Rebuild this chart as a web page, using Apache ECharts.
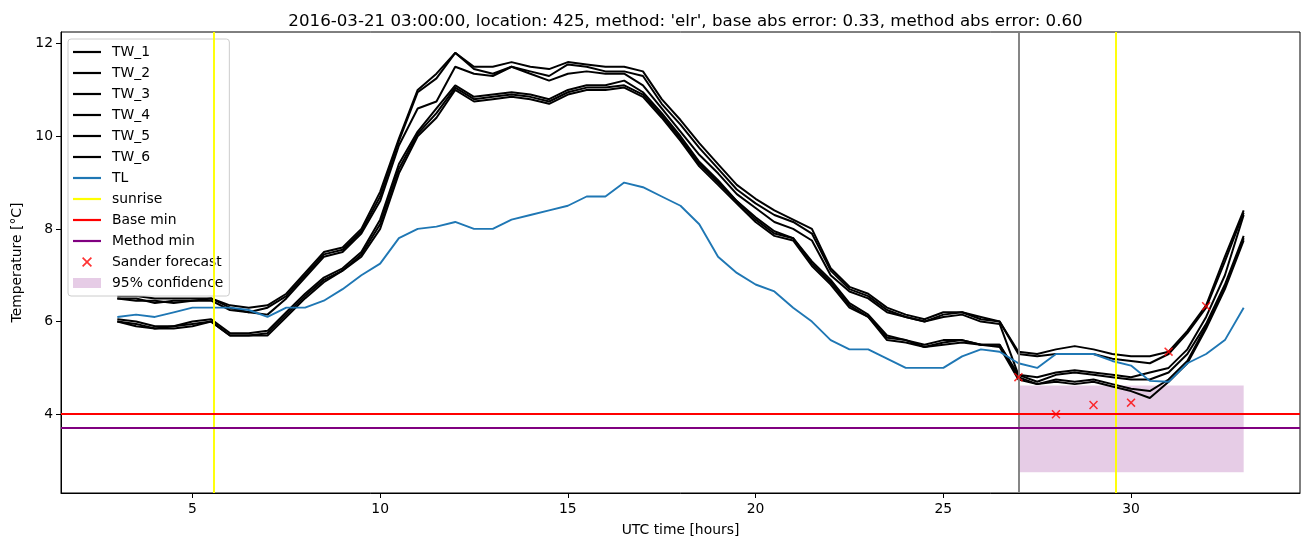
<!DOCTYPE html>
<html><head><meta charset="utf-8">
<script src="https://cdn.jsdelivr.net/npm/echarts@6.0.0/dist/echarts.min.js"></script>
<style>html,body{margin:0;padding:0;background:#fff}#c{width:1310px;height:547px}</style>
</head><body><div id="c"></div>
<script>
// ---- data ----
const hours = [3,3.5,4,4.5,5,5.5,6,6.5,7,7.5,8,8.5,9,9.5,10,10.5,11,11.5,12,12.5,13,13.5,14,14.5,15,15.5,16,16.5,17,17.5,18,18.5,19,19.5,20,20.5,21,21.5,22,22.5,23,23.5,24,24.5,25,25.5,26,26.5,27,27.5,28,28.5,29,29.5,30,30.5,31,31.5,32,32.5,33];
const TW_1 = [6.55,6.55,6.5,6.5,6.5,6.5,6.35,6.3,6.35, 6.6,7.05,7.5,7.6,8.0,8.8,9.95,11.0,11.35,11.8, 11.5,11.5,11.6,11.5,11.45,11.6,11.55,11.5,11.5,11.4, 10.8,10.35,9.85,9.4,8.95,8.65,8.4,8.2,8.0,7.15, 6.75,6.6,6.3,6.15,6.05,6.2,6.2,6.1,6.0,5.35, 5.3,5.4,5.47,5.4,5.3,5.25,5.25,5.35,5.8,6.35,7.4,8.4];
const TW_2 = [6.5,6.5,6.4,6.45,6.45,6.5,6.3,6.2,6.3, 6.55,7.0,7.45,7.55,7.95,8.7,9.9,10.95,11.25,11.8, 11.45,11.35,11.5,11.4,11.3,11.55,11.5,11.4,11.4,11.3, 10.7,10.25,9.75,9.3,8.85,8.55,8.3,8.15,7.9,7.1, 6.7,6.55,6.25,6.1,6.0,6.15,6.2,6.05,6.0,5.3, 5.25,5.3,5.3,5.3,5.2,5.15,5.1,5.3,5.75,6.3,7.3,8.35];
const TW_3 = [6.5,6.45,6.45,6.4,6.45,6.45,6.25,6.2,6.15, 6.5,6.95,7.4,7.5,7.9,8.6,9.8,10.6,10.75,11.5, 11.35,11.3,11.5,11.35,11.2,11.35,11.4,11.35,11.35,11.1, 10.6,10.1,9.6,9.2,8.75,8.45,8.15,8.0,7.75,7.0, 6.65,6.5,6.2,6.1,6.0,6.1,6.15,6.0,5.95,4.85, 4.8,4.9,4.95,4.9,4.85,4.8,4.9,5.0,5.4,6.1,7.0,8.3];
const TW_4 = [6.05,6.0,5.9,5.9,6.0,6.05,5.75,5.75,5.8, 6.2,6.6,6.95,7.15,7.5,8.2,9.4,10.1,10.6,11.1, 10.85,10.9,10.95,10.9,10.8,11.0,11.1,11.1,11.2,10.95, 10.5,10.0,9.45,9.05,8.6,8.25,7.95,7.8,7.3,6.9, 6.4,6.15,5.7,5.6,5.5,5.6,5.6,5.5,5.5,4.85, 4.7,4.85,4.9,4.85,4.8,4.75,4.75,4.9,5.3,5.95,6.8,7.85];
const TW_5 = [6.0,5.95,5.85,5.9,5.95,6.0,5.7,5.7,5.75, 6.15,6.55,6.9,7.1,7.45,8.1,9.3,10.05,10.5,11.05, 10.8,10.85,10.9,10.85,10.75,10.95,11.05,11.05,11.1,10.9, 10.45,9.95,9.4,9.0,8.6,8.2,7.9,7.8,7.25,6.85, 6.35,6.1,5.65,5.6,5.45,5.55,5.6,5.5,5.5,4.8, 4.65,4.75,4.7,4.75,4.65,4.55,4.5,4.75,5.15,5.9,6.75,7.8];
const TW_6 = [6.0,5.9,5.85,5.85,5.9,6.0,5.7,5.7,5.7, 6.1,6.5,6.85,7.1,7.4,8.0,9.2,10.0,10.4,11.0, 10.75,10.8,10.85,10.8,10.7,10.9,11.0,11.0,11.05,10.85, 10.4,9.9,9.35,8.95,8.55,8.15,7.85,7.75,7.2,6.8, 6.3,6.1,5.6,5.55,5.45,5.5,5.55,5.5,5.45,4.75, 4.65,4.7,4.65,4.7,4.6,4.5,4.35,4.7,5.1,5.85,6.7,7.75];
const TL = [6.1,6.15,6.1,6.2,6.3,6.3,6.3,6.25,6.1, 6.3,6.3,6.45,6.7,7.0,7.25,7.8,8.0,8.05,8.15, 8.0,8.0,8.2,8.3,8.4,8.5,8.7,8.7,9.0,8.9, 8.7,8.5,8.1,7.4,7.05,6.8,6.65,6.3,6.0,5.6, 5.4,5.4,5.2,5.0,5.0,5.0,5.25,5.4,5.35,5.1, 5.0,5.3,5.3,5.3,5.15,5.05,4.72,4.7,5.1,5.3,5.6,6.3];
const forecastHours = [27,28,29,30,31,32];
const forecastValues = [4.8,4.0,4.2,4.25,5.35,6.33];
const sunriseHours = [5.585, 29.585];
const forecastStart = 27;
const baseMin = 4.0;
const methodMin = 3.7;
const confHours = [27, 33];
const confRange = [2.75, 4.62];
const xTicks = [5,10,15,20,25,30];
const yTicks = [4,6,8,10,12];
const twNames = ['TW_1','TW_2','TW_3','TW_4','TW_5','TW_6'];
const twData = [TW_1,TW_2,TW_3,TW_4,TW_5,TW_6];
const titleText = "2016-03-21 03:00:00, location: 425, method: 'elr', base abs error: 0.33, method abs error: 0.60";

// ---- chart ----
const FONT = 'DejaVu Sans';
const pair = (xs, ys) => xs.map((x, i) => [x, ys[i]]);
const xPath = 'path://M0,1.2L1.2,0L5,3.8L8.8,0L10,1.2L6.2,5L10,8.8L8.8,10L5,6.2L1.2,10L0,8.8L3.8,5Z';
const lineIcon = 'path://M0,0L28,0L28,2.2L0,2.2Z';
const noLabel = {show: false};

const series = [];
series.push({
  name: '95% confidence', type: 'line', data: [], z: 1, color: 'rgba(128,0,128,0.2)',
  markArea: {silent: true, itemStyle: {color: 'rgba(128,0,128,0.2)'}, label: noLabel,
    data: [[{xAxis: confHours[0], yAxis: confRange[0]}, {xAxis: confHours[1], yAxis: confRange[1]}]]}
});
twNames.forEach((n, i) => series.push({
  name: n, type: 'line', data: pair(hours, twData[i]), symbol: 'none', showSymbol: false, z: 2,
  color: '#000', lineStyle: {color: '#000', width: 2}
}));
series.push({name: 'TL', type: 'line', data: pair(hours, TL), symbol: 'none', showSymbol: false, z: 3,
  color: '#1f77b4', lineStyle: {color: '#1f77b4', width: 1.9}});
series.push({name: 'forecast time', type: 'line', data: [], z: 4, color: '#808080',
  markLine: {silent: true, symbol: ['none','none'], label: noLabel,
    lineStyle: {color: '#808080', width: 1.9, type: 'solid'}, data: [{xAxis: forecastStart}]}});
series.push({name: 'sunrise', type: 'line', data: [], z: 4, color: '#ffff00',
  markLine: {silent: true, symbol: ['none','none'], label: noLabel,
    lineStyle: {color: '#ffff00', width: 1.9, type: 'solid'}, data: sunriseHours.map(h => ({xAxis: h}))}});
series.push({name: 'Base min', type: 'line', data: [], z: 4, color: '#ff0000',
  markLine: {silent: true, symbol: ['none','none'], label: noLabel,
    lineStyle: {color: '#ff0000', width: 1.9, type: 'solid'}, data: [{yAxis: baseMin}]}});
series.push({name: 'Method min', type: 'line', data: [], z: 4, color: '#800080',
  markLine: {silent: true, symbol: ['none','none'], label: noLabel,
    lineStyle: {color: '#800080', width: 1.9, type: 'solid'}, data: [{yAxis: methodMin}]}});
series.push({name: 'Sander forecast', type: 'scatter', data: pair(forecastHours, forecastValues), z: 5,
  symbol: xPath, symbolSize: 9, itemStyle: {color: '#ff0000'}});

const lineItem = (n, c) => ({name: n, icon: lineIcon, itemStyle: {color: c, borderWidth: 0}});
const legendData = twNames.map(n => lineItem(n, '#000')).concat([
  lineItem('TL', '#1f77b4'), lineItem('sunrise', '#ffff00'), lineItem('Base min', '#ff0000'),
  lineItem('Method min', '#800080'),
  {name: 'Sander forecast', icon: xPath, itemStyle: {color: '#ff0000', borderWidth: 0}},
  {name: '95% confidence', icon: 'rect', itemStyle: {color: 'rgba(128,0,128,0.2)', borderWidth: 0}}
]);

const chart = echarts.init(document.getElementById('c'), null, {renderer: 'canvas'});
chart.setOption({
  animation: false,
  backgroundColor: '#fff',
  textStyle: {fontFamily: FONT},
  title: {text: titleText, left: 680.5, top: 8, textAlign: 'center',
    textStyle: {fontFamily: FONT, fontSize: 16.67, fontWeight: 'normal', color: '#000'}},
  grid: {left: 61, right: 10, top: 32, bottom: 54, show: true, borderColor: '#000', borderWidth: 1,
    containLabel: false, outerBoundsMode: 'none'},
  legend: {
    data: legendData, orient: 'vertical', left: 68, top: 39, itemWidth: 28, itemHeight: 10, itemGap: 7,
    padding: [6, 6, 6, 5], backgroundColor: 'rgba(255,255,255,0.8)', borderColor: '#cccccc', borderWidth: 1,
    borderRadius: 3, selectedMode: false,
    textStyle: {fontFamily: FONT, fontSize: 13.9, color: '#000', padding: [0, 0, 0, 6]}
  },
  xAxis: {
    type: 'value', min: 1.5, max: 34.5,
    name: 'UTC time [hours]', nameLocation: 'middle', nameGap: 30,
    nameTextStyle: {fontFamily: FONT, fontSize: 13.9, color: '#000'},
    axisLine: {show: true, onZero: false, lineStyle: {color: '#000', width: 1}},
    axisTick: {show: true, inside: false, length: 5, lineStyle: {color: '#000'}, customValues: xTicks},
    axisLabel: {show: true, customValues: xTicks, color: '#000', fontFamily: FONT, fontSize: 13.9, margin: 9},
    splitLine: {show: false}
  },
  yAxis: {
    type: 'value', min: 2.3, max: 12.25,
    name: 'Temperature [°C]', nameLocation: 'middle', nameGap: 32, nameRotate: 90,
    nameTextStyle: {fontFamily: FONT, fontSize: 13.9, color: '#000'},
    axisLine: {show: true, onZero: false, lineStyle: {color: '#000', width: 1}},
    axisTick: {show: true, inside: false, length: 5, lineStyle: {color: '#000'}, customValues: yTicks},
    axisLabel: {show: true, customValues: yTicks, color: '#000', fontFamily: FONT, fontSize: 13.9, margin: 8},
    splitLine: {show: false}
  },
  series: series
});
</script></body></html>
